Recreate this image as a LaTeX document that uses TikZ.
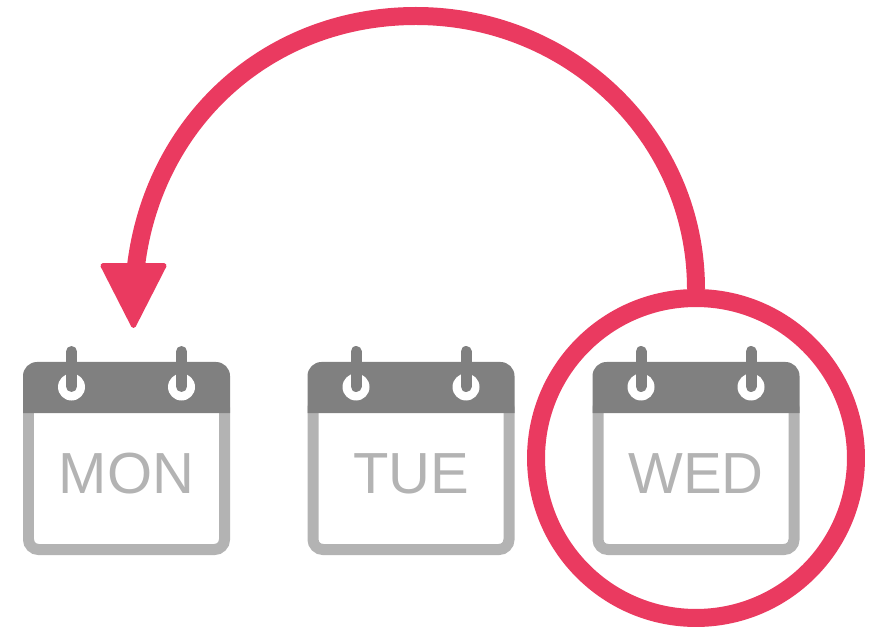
\documentclass[tikz,border=0pt]{standalone}
\usepackage{fontspec}
\setmainfont{Liberation Sans}
\usetikzlibrary{arrows.meta, positioning}
\definecolor{calpink}{RGB}{234, 58, 96}
\definecolor{caldark}{RGB}{128, 128, 128}
\definecolor{callight}{RGB}{179, 179, 179}
\tikzset{
    calbody/.style={draw=callight, line width=0.22cm, rounded corners=0.2cm},
    calhead/.style={fill=caldark},
    calpin/.style={draw=caldark, line width=0.22cm, line cap=round},
    calhole/.style={fill=white},
    calday/.style={text=callight, font=\fontsize{33}{36}\selectfont, inner sep=0pt}
}

\begin{document}
\begin{tikzpicture}[x=0.02cm, y=0.02cm]
\useasboundingbox (0,0) rectangle (879,626);

% === Monday ===
\begin{scope}[shift={(126.5,168)}]
    \draw[calbody] (-98,-91.5) rectangle (98,60);
    \fill[calhead] (-103.5,45) [rounded corners=0.28cm] -- (-103.5,96) -- (103.5,96) [sharp corners] -- (103.5,45) -- cycle;
    \fill[calhole] (-55,71) circle (13.5);
    \fill[calhole] (55,71) circle (13.5);
    \draw[calpin] (-55,106.5) -- (-55,71.5);
    \draw[calpin] (55,106.5) -- (55,71.5);
    \node[calday] (mon) at (0,-15.5) {MON};
\end{scope}

% === Tuesday ===
\begin{scope}[shift={(411,168)}]
    \draw[calbody] (-98,-91.5) rectangle (98,60);
    \fill[calhead] (-103.5,45) [rounded corners=0.28cm] -- (-103.5,96) -- (103.5,96) [sharp corners] -- (103.5,45) -- cycle;
    \fill[calhole] (-55,71) circle (13.5);
    \fill[calhole] (55,71) circle (13.5);
    \draw[calpin] (-55,106.5) -- (-55,71.5);
    \draw[calpin] (55,106.5) -- (55,71.5);
    \node[calday] (tue) at (0,-15.5) {TUE};
\end{scope}

% === Wednesday ===
\begin{scope}[shift={(696,168)}]
    \draw[calbody] (-98,-91.5) rectangle (98,60);
    \fill[calhead] (-103.5,45) [rounded corners=0.28cm] -- (-103.5,96) -- (103.5,96) [sharp corners] -- (103.5,45) -- cycle;
    \fill[calhole] (-55,71) circle (13.5);
    \fill[calhole] (55,71) circle (13.5);
    \draw[calpin] (-55,106.5) -- (-55,71.5);
    \draw[calpin] (55,106.5) -- (55,71.5);
    \node[calday] (wed) at (0,-15.5) {WED};
\end{scope}

% === Ring around Wednesday ===
\node[draw=calpink, line width=0.36cm, circle, inner sep=0pt, minimum size=6.4cm] (wedring) at (696,168) {};

% === Arrow back to Monday ===
\coordinate (arctop) at (416,610);
\coordinate (shaftend) at (136,360);
\coordinate (headbase) at (133.5,372);
\coordinate (headtip) at (133.5,298);
\draw[line width=0.36cm, calpink]
    (wedring.north) to[out=90, in=0] (arctop) to[out=180, in=83] (shaftend);
\draw[-{Triangle[length=1.36cm, width=1.36cm, line width=0.1cm, round]}, line width=0.1cm, calpink]
    (headbase) -- (headtip);

\end{tikzpicture}
\end{document}
